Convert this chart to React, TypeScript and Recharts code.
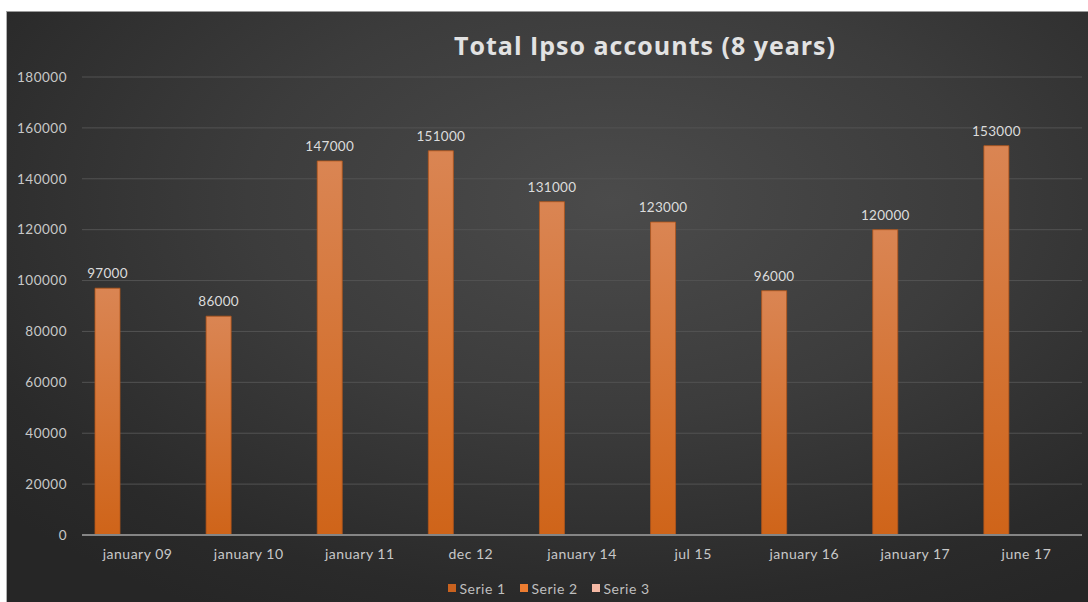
import React from "react";
import { BarChart, Bar, XAxis, YAxis, CartesianGrid, LabelList, Legend } from "recharts";

const categories = ["january 09", "january 10", "january 11", "dec 12", "january 14", "jul 15", "january 16", "january 17", "june 17"];
const serie1 = [97000, 86000, 147000, 151000, 131000, 123000, 96000, 120000, 153000];
const serie2: (number | null)[] = [null, null, null, null, null, null, null, null, null];
const serie3: (number | null)[] = [null, null, null, null, null, null, null, null, null];
const yTicks = [0, 20000, 40000, 60000, 80000, 100000, 120000, 140000, 160000, 180000];
const seriesNames = ["Serie 1", "Serie 2", "Serie 3"];
const legendColors = ["#c9621f", "#ed7d31", "#f4b8a4"];

const data = categories.map((c, i) => ({ name: c, s1: serie1[i], s2: serie2[i], s3: serie3[i] }));

const FONT = "Lato, 'Open Sans', sans-serif";

const renderLegend = () => (
  <div style={{ display: "flex", justifyContent: "center", alignItems: "center", fontFamily: FONT, fontSize: 14, letterSpacing: 0.5, color: "#bfbfbf", height: 20, paddingLeft: 22 }}>
    {seriesNames.map((n, i) => (
      <span key={n} style={{ display: "inline-flex", alignItems: "center", marginRight: 14 }}>
        <span style={{ width: 8, height: 8, background: legendColors[i], display: "inline-block", marginRight: 4 }} />
        {n}
      </span>
    ))}
  </div>
);

export default function App() {
  return (
    <div style={{ position: "absolute", left: 0, top: 0, width: 1088, height: 602, background: "#ffffff", overflow: "hidden" }}>
      <style>{"body{margin:0}"}</style>
      <div
        style={{
          position: "absolute",
          left: 6,
          top: 11,
          width: 1082,
          height: 591,
          borderTop: "1px solid #9a9a9a",
          borderLeft: "1px solid #b0b0b0",
          boxSizing: "border-box",
          background: "radial-gradient(ellipse 75% 80% at 56% 32%, #4b4b4b 0%, #3c3c3c 45%, #2a2a2a 85%, #262626 100%)",
        }}
      >
        <BarChart
          width={1081}
          height={590}
          data={data}
          margin={{ top: 65, right: 6, left: 0, bottom: 4 }}
          barCategoryGap={13}
          barGap={5}
        >
          <text x={638} y={43} textAnchor="middle" fill="#e2e2e2" fontFamily="'Open Sans', Lato, sans-serif" fontWeight="bold" fontSize={25} letterSpacing={1}>
            Total Ipso accounts (8 years)
          </text>
          <defs>
            <linearGradient id="barGrad" x1="0" y1="0" x2="0" y2="1">
              <stop offset="0%" stopColor="#da8553" />
              <stop offset="100%" stopColor="#cf6419" />
            </linearGradient>
          </defs>
          <CartesianGrid vertical={false} stroke="#525252" strokeWidth={1} />
          <XAxis
            dataKey="name"
            height={43}
            axisLine={{ stroke: "#858585", strokeWidth: 2 }}
            tickLine={false}
            tickSize={0}
            tickMargin={14}
            interval={0}
            tick={{ fill: "#c8c8c8", fontSize: 14, fontFamily: FONT, letterSpacing: 0.5 }}
          />
          <YAxis
            width={75}
            domain={[0, 180000]}
            ticks={yTicks}
            axisLine={false}
            tickLine={false}
            tickSize={0}
            tickMargin={15}
            tick={{ fill: "#c8c8c8", fontSize: 13.5, fontFamily: FONT, letterSpacing: 0.5 }}
          />
          <Legend verticalAlign="bottom" height={20} content={renderLegend} />
          <Bar dataKey="s1" name="Serie 1" fill="url(#barGrad)" stroke="#b3561a" strokeWidth={0.8} isAnimationActive={false}>
            <LabelList dataKey="s1" position="top" offset={10} fill="#dcdcdc" fontSize={13.5} fontFamily={FONT} letterSpacing={0.3} />
          </Bar>
          <Bar dataKey="s2" name="Serie 2" fill="#ed7d31" isAnimationActive={false} />
          <Bar dataKey="s3" name="Serie 3" fill="#f4b8a4" isAnimationActive={false} />
        </BarChart>
      </div>
    </div>
  );
}
